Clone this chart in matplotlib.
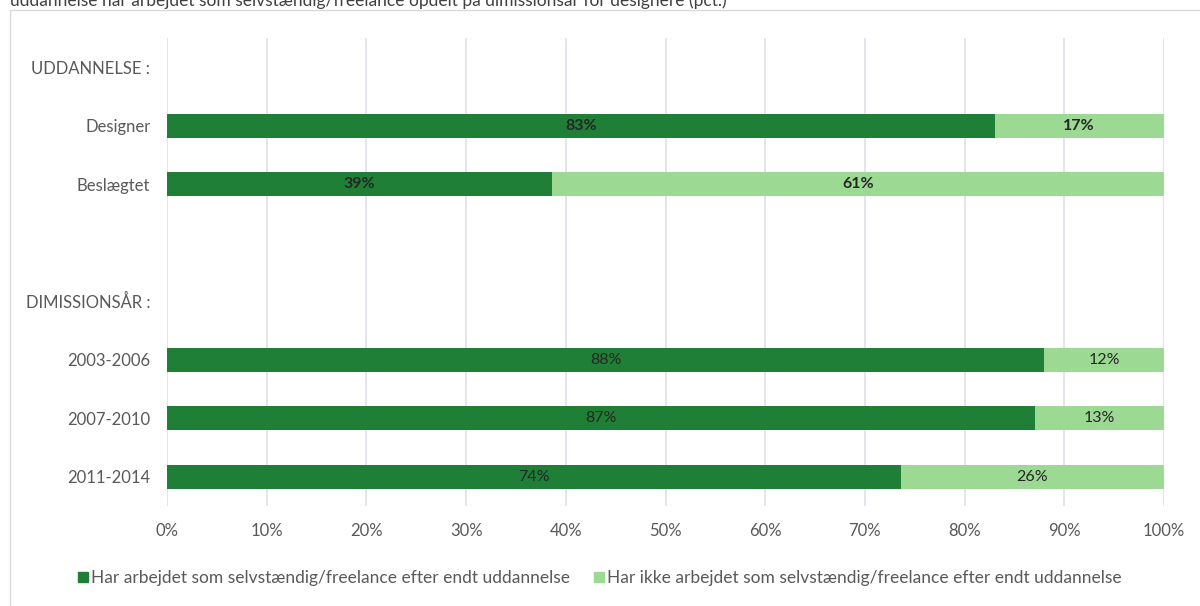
import matplotlib.pyplot as plt
from matplotlib.patches import Rectangle

plt.rcParams['font.family'] = ['Lato', 'DejaVu Sans']

# rows from top to bottom; headers and spacer rows carry no bars
rows = ['UDDANNELSE :', 'Designer', 'Beslægtet', '', 'DIMISSIONSÅR :',
        '2003-2006', '2007-2010', '2011-2014']
har = [None, 83.0, 38.6, None, None, 88.0, 87.1, 73.6]
har_ikke = [None, 17.0, 61.4, None, None, 12.0, 12.9, 26.4]
bold_rows = ['Designer', 'Beslægtet']
ticks = list(range(0, 101, 10))

dark = '#1f7f37'
light = '#9cd993'
grey = '#595959'

fig = plt.figure(figsize=(12, 6.06), dpi=100)
ax = fig.add_axes([0.1392, 0.165, 0.8308, 0.7723])

# outer chart frame
fig.patches.append(Rectangle((10 / 1200, -0.01), 1.2, 1 - 10 / 606 + 0.01,
                             transform=fig.transFigure, fill=False,
                             edgecolor='#d9d9d9', linewidth=1))

fig.text(0.008, 1 - 6 / 606,
         'uddannelse har arbejdet som selvstændig/freelance opdelt på dimissionsår for designere (pct.)',
         fontsize=12.5, color='#404040', va='baseline')

ypos = list(range(len(rows)))
for y, name, a, b in zip(ypos, rows, har, har_ikke):
    if a is None:
        continue
    ax.barh(y, a, height=0.41, color=dark, zorder=3)
    ax.barh(y, b, left=a, height=0.41, color=light, zorder=3)
    w = 'bold' if name in bold_rows else 'normal'
    ax.text(a / 2, y, f'{round(a)}%', ha='center', va='center',
            fontsize=11.5, color='#262626', fontweight=w, zorder=4)
    ax.text(a + b / 2, y, f'{round(b)}%', ha='center', va='center',
            fontsize=11.5, color='#262626', fontweight=w, zorder=4)

ax.set_ylim(len(rows) - 0.5, -0.5)
ax.set_xlim(0, 100)
ax.set_yticks(ypos)
ax.set_yticklabels(rows, fontsize=12, color=grey)
ax.set_xticks(ticks)
ax.set_xticklabels([f'{t}%' for t in ticks], fontsize=12, color=grey)
ax.tick_params(axis='y', length=0, pad=12)
ax.tick_params(axis='x', length=0, pad=12)
ax.grid(axis='x', color='#dfe3ea', linewidth=1.3, zorder=0)
for s in ax.spines.values():
    s.set_visible(False)

handles = [Rectangle((0, 0), 1, 1, color=dark), Rectangle((0, 0), 1, 1, color=light)]
labels = ['Har arbejdet som selvstændig/freelance efter endt uddannelse',
          'Har ikke arbejdet som selvstændig/freelance efter endt uddannelse']
fig.legend(handles, labels, loc='center', bbox_to_anchor=(0.5, 1 - 578 / 606),
           ncol=2, frameon=False, fontsize=12.5, handlelength=0.55, handleheight=0.55,
           handletextpad=0.2, columnspacing=1.4, labelcolor=grey)

fig.savefig('out.png', dpi=100)
